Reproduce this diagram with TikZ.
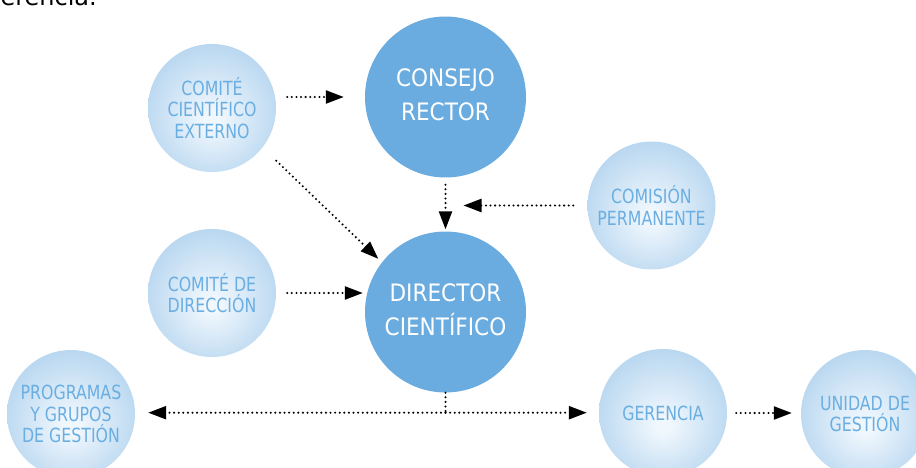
\documentclass[tikz,border=0pt]{standalone}
\usepackage{fontspec}
\setmainfont{DejaVu Sans}
\newfontfamily\condfont{DejaVu Sans Condensed}
\newfontfamily\narrowfont{DejaVu Sans Condensed}[FakeStretch=0.9]
\usetikzlibrary{arrows.meta,calc}
\definecolor{lightedge}{HTML}{B5D5EF}
\definecolor{lightcenter}{HTML}{F0F7FD}
\definecolor{darkblue}{HTML}{6AACDF}
\definecolor{textblue}{HTML}{6AAEE2}
\pgfdeclareradialshading{bubbleshade}{\pgfpoint{0bp}{-5bp}}{color(0bp)=(lightcenter); color(3bp)=(lightcenter); color(29bp)=(lightedge); color(50bp)=(lightedge)}
\tikzset{
  lightbubble/.style={circle, minimum size=128pt, inner sep=0pt,
    shading=bubbleshade, text=textblue, align=center,
    font=\narrowfont\fontsize{19.5}{21.5}\selectfont},
  darkbubble/.style={circle, minimum size=161pt, inner sep=0pt,
    fill=darkblue, text=white, align=center,
    font=\condfont\fontsize{24}{34}\selectfont},
  dotline/.style={line width=2.3pt, dash pattern=on 0pt off 4.6pt, line cap=round},
  flow/.style={dotline, -{Triangle[length=18pt,width=13pt]}},
}
\begin{document}
\begin{tikzpicture}[x=1pt,y=-1pt]
\useasboundingbox (0,0) rectangle (916,468);
\clip (0,0) rectangle (916,468);
\node[anchor=base east, font=\fontsize{24}{24}\selectfont, inner sep=0pt] (head) at (97,5.5) {erencia.};
\node[lightbubble] (cce) at (212,108) {COMITÉ\\CIENTÍFICO\\EXTERNO};
\node[darkbubble] (cr) at (445.5,97) {CONSEJO\\RECTOR\vphantom{g}};
\node[lightbubble] (com) at (651.5,205.5) {COMISIÓN\\PERMANENTE};
\node[lightbubble] (cdd) at (212,293) {COMITÉ DE\\DIRECCIÓN};
\node[darkbubble] (dir) at (445.5,312) {DIRECTOR\\CIENTÍFICO\vphantom{g}};
\node[lightbubble] (prog) at (71,414) {PROGRAMAS\\Y GRUPOS\\DE GESTIÓN};
\node[lightbubble] (ger) at (663,413) {GERENCIA};
\node[lightbubble] (uni) at (865,414) {UNIDAD DE\\GESTIÓN};
\path (cr.south |- com.west) coordinate (meet);
\coordinate (split) at ($(dir.south)+(0,20)$);
\draw[flow, shorten <=11pt, shorten >=21pt] (cr.west -| cce.east) -- (cr.west);
\draw[flow, shorten <=19pt, shorten >=5pt] (cce.-38) -- (dir.142);
\draw[flow, shorten <=7pt, shorten >=2pt] (cr.south) -- (dir.north);
\draw[flow, shorten <=14pt, shorten >=18pt] (com.west) -- (meet);
\draw[flow, shorten <=11pt, shorten >=2pt] (cdd.east) -- (cdd.east -| dir.west);
\draw[dotline] (dir.south) -- (split);
\draw[flow, shorten >=13pt] (split) -- (split -| prog.east);
\draw[flow, shorten >=12pt] (split) -- (split -| ger.west);
\draw[flow, shorten <=9pt, shorten >=9pt] (ger.east) -- (ger.east -| uni.west);
\end{tikzpicture}
\end{document}
